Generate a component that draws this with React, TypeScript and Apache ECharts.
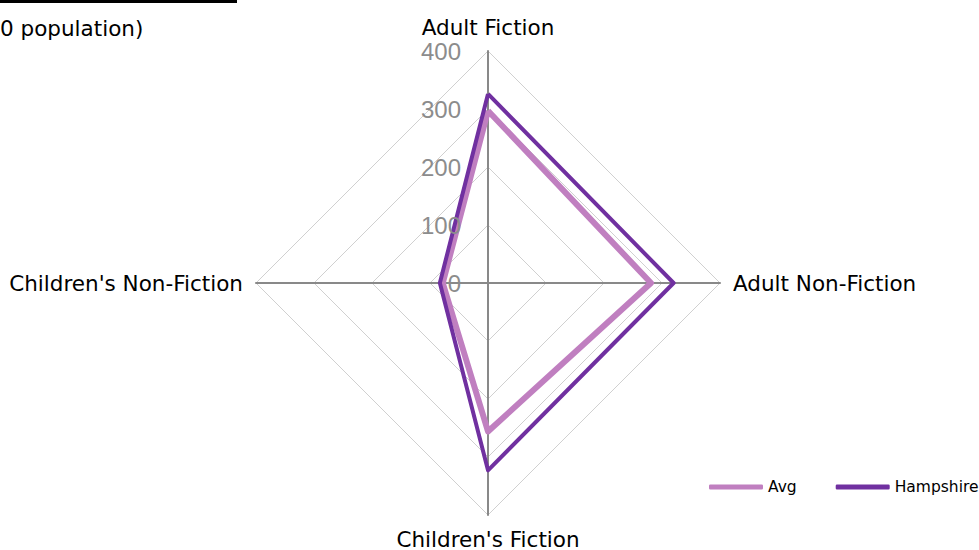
import React, { useEffect, useRef } from "react";
import * as echarts from "echarts";

// Order as drawn by ECharts (counter-clockwise from the top): top, left, bottom, right
const indicators = ["Adult Fiction", "Children's Non-Fiction", "Children's Fiction", "Adult Non-Fiction"];
const avgValues = [297, 78, 256, 281];
const hampshireValues = [326, 83, 323, 320];
const seriesNames = ["Avg", "Hampshire"];
const axisMax = 400;
const tickStep = 100;

export default function App() {
  const ref = useRef<HTMLDivElement>(null);
  useEffect(() => {
    if (!ref.current) return;
    const chart = echarts.init(ref.current, null, { renderer: "svg" });
    const font = "DejaVu Sans";
    const center = [488, 283];
    const radius = 232;
    chart.setOption({
      animation: false,
      textStyle: { fontFamily: font },
      graphic: [
        { type: "rect", shape: { x: 0, y: 0, width: 237, height: 3 }, style: { fill: "#000" } },
        { type: "text", x: 0, y: 17, style: { text: "0 population)", font: `21.5px ${font}`, fill: "#000" } },
      ],
      legend: {
        orient: "horizontal",
        left: 709,
        top: 479,
        width: 400,
        padding: 0,
        itemWidth: 54,
        itemHeight: 5,
        itemGap: 39,
        icon: "roundRect",
        textStyle: { fontFamily: font, fontSize: 15.5, color: "#000" },
        data: seriesNames,
      },
      polar: { center, radius },
      angleAxis: { show: false, min: 0, max: 360, startAngle: 90 },
      radiusAxis: {
        min: 0,
        max: axisMax,
        interval: tickStep,
        axisLine: { show: false },
        axisTick: { show: false },
        splitLine: { show: false },
        axisLabel: { color: "#8c8c8c", fontFamily: "Liberation Sans", fontSize: 24, margin: 27 },
        z: 10,
      },
      radar: {
        center,
        radius,
        startAngle: 90,
        shape: "polygon",
        splitNumber: 4,
        nameGap: 13,
        axisName: { color: "#000", fontFamily: font, fontSize: 21.5 },
        indicator: indicators.map((n) => ({ name: n, min: 0, max: axisMax })),
        axisLine: { lineStyle: { color: "#898989", width: 2 } },
        splitLine: { lineStyle: { color: "#d0d0d0", width: 1 } },
        splitArea: { show: false },
        axisTick: { show: false },
        axisLabel: { show: false },
      },
      series: [
        {
          type: "radar",
          symbol: "none",
          data: [
            { name: seriesNames[0], value: avgValues, lineStyle: { color: "#c07fc0", width: 6 }, itemStyle: { color: "#c07fc0" } },
            { name: seriesNames[1], value: hampshireValues, lineStyle: { color: "#7030a0", width: 4 }, itemStyle: { color: "#7030a0" } },
          ],
        },
      ],
    });
    return () => chart.dispose();
  }, []);
  return <div ref={ref} style={{ width: 979, height: 550, position: "absolute", left: 0, top: 0 }} />;
}
